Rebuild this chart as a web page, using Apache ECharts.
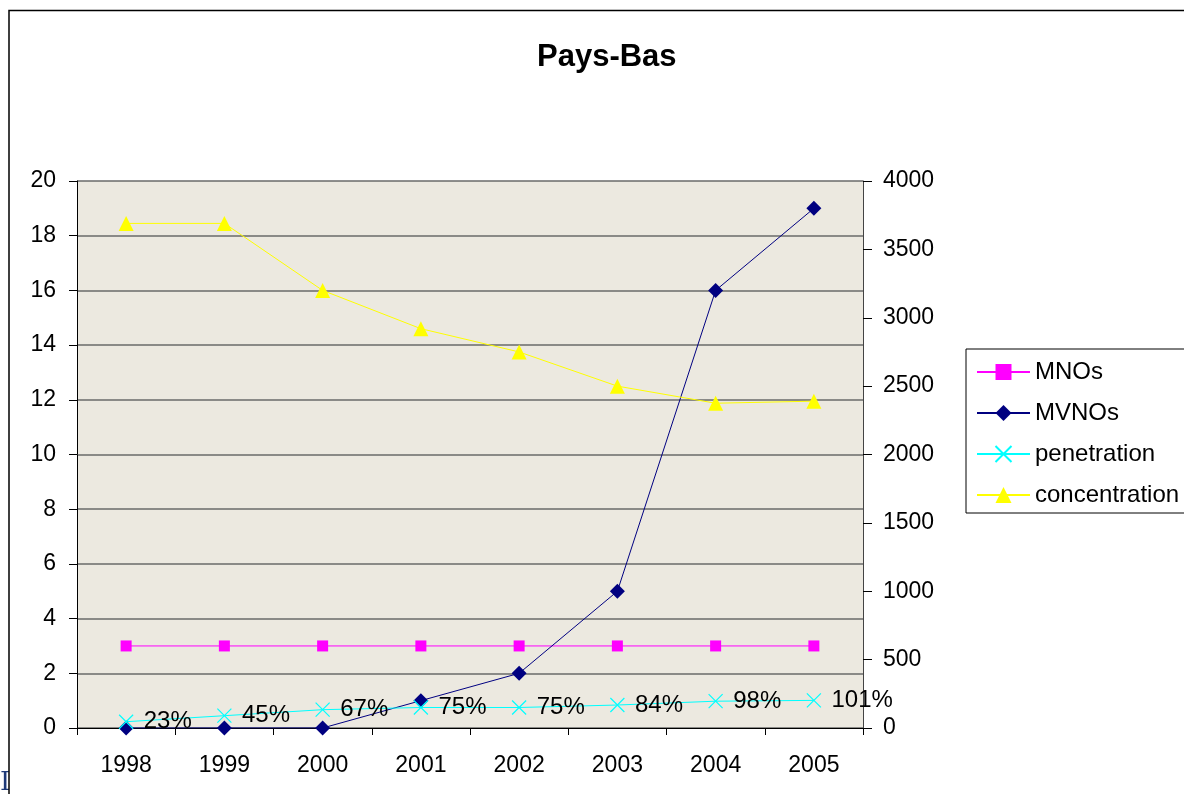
<!DOCTYPE html>
<html>
<head>
<meta charset="utf-8">
<script src="https://cdn.jsdelivr.net/npm/echarts@6/dist/echarts.min.js"></script>
<style>
  html, body { margin: 0; padding: 0; background: #fff; }
  #chart { width: 1184px; height: 794px; }
</style>
</head>
<body>
<div id="chart"></div>
<script>
const years = ['1998', '1999', '2000', '2001', '2002', '2003', '2004', '2005'];
const mnos = [3, 3, 3, 3, 3, 3, 3, 3];
const mvnos = [0, 0, 0, 1, 2, 5, 16, 19];
const penetrationPct = [23, 45, 67, 75, 75, 84, 98, 101];
const concentration = [3690, 3690, 3200, 2920, 2750, 2500, 2375, 2390];

const font = 'Liberation Sans, Arial, sans-serif';
const crossSymbol = 'path://M0,0L10,10M10,0L0,10';

const chart = echarts.init(document.getElementById('chart'), null, { renderer: 'canvas' });

chart.setOption({
  animation: false,
  backgroundColor: '#fff',
  textStyle: { fontFamily: font, color: '#000' },
  title: {
    text: 'Pays-Bas',
    left: 532,
    top: 37,
    textStyle: { fontFamily: font, fontSize: 31, fontWeight: 'bold', color: '#000' },
  },
  graphic: [
    {
      type: 'rect',
      z: 100,
      shape: { x: 9, y: 10.5, width: 1400, height: 1000 },
      style: { fill: 'transparent', stroke: '#000', lineWidth: 1.5 },
    },
    {
      type: 'text',
      left: 0,
      top: 770,
      style: { text: 'I', font: '26px "DejaVu Serif", serif', fill: '#1f3a78' },
    },
  ],
  legend: {
    orient: 'vertical',
    left: 966,
    top: 349,
    padding: [11, 10, 6, 10],
    borderColor: '#000',
    borderWidth: 1,
    backgroundColor: '#fff',
    itemWidth: 53,
    itemHeight: 20,
    itemGap: 17,
    textStyle: { fontFamily: font, fontSize: 24, lineHeight: 23, color: '#000' },
    data: ['MNOs', 'MVNOs', 'penetration', 'concentration'],
  },
  grid: {
    left: 77,
    right: 321,
    top: 181,
    bottom: 66,
    show: true,
    backgroundColor: '#ECE9E0',
    borderWidth: 0,
  },
  xAxis: {
    type: 'category',
    data: years,
    boundaryGap: true,
    axisLine: { lineStyle: { color: '#000', width: 1 } },
    axisTick: { show: true, alignWithLabel: false, length: 7, lineStyle: { color: '#000' } },
    axisLabel: { fontFamily: font, fontSize: 23, color: '#000', margin: 26 },
    splitLine: { show: false },
  },
  yAxis: [
    {
      type: 'value',
      min: 0,
      max: 20,
      interval: 2,
      axisLine: { show: true, lineStyle: { color: '#000', width: 1 } },
      axisTick: { show: true, length: 8, lineStyle: { color: '#000' } },
      axisLabel: { fontFamily: font, fontSize: 23, color: '#000', margin: 21 },
      splitLine: { show: true, lineStyle: { color: '#6a6a6a', width: 1.5 } },
    },
    {
      type: 'value',
      min: 0,
      max: 4000,
      interval: 500,
      position: 'right',
      alignTicks: false,
      axisLine: { show: true, lineStyle: { color: '#444', width: 1 } },
      axisTick: { show: true, length: 9, lineStyle: { color: '#000' } },
      axisLabel: {
        fontFamily: font,
        fontSize: 23,
        color: '#000',
        margin: 20,
        formatter: (v) => String(v),
      },
      splitLine: { show: false },
    },
  ],
  series: [
    {
      name: 'MNOs',
      type: 'line',
      yAxisIndex: 0,
      data: mnos,
      symbol: 'rect',
      symbolSize: 11,
      color: '#FF00FF',
      lineStyle: { width: 1, color: '#FF00FF' },
      itemStyle: { color: '#FF00FF' },
    },
    {
      name: 'MVNOs',
      type: 'line',
      yAxisIndex: 0,
      data: mvnos,
      symbol: 'diamond',
      symbolSize: 15,
      color: '#000080',
      lineStyle: { width: 1, color: '#000080' },
      itemStyle: { color: '#000080' },
    },
    {
      name: 'penetration',
      type: 'line',
      yAxisIndex: 0,
      data: penetrationPct.map((p) => p / 100),
      symbol: crossSymbol,
      symbolSize: 14,
      color: '#00FFFF',
      lineStyle: { width: 1, color: '#00FFFF' },
      itemStyle: { color: 'transparent', borderColor: '#00FFFF', borderWidth: 1.2 },
      label: {
        show: true,
        position: 'right',
        distance: 10,
        fontFamily: font,
        fontSize: 24,
        color: '#000',
        formatter: (p) => penetrationPct[p.dataIndex] + '%',
      },
    },
    {
      name: 'concentration',
      type: 'line',
      yAxisIndex: 1,
      data: concentration,
      symbol: 'triangle',
      symbolSize: 15,
      color: '#FFFF00',
      lineStyle: { width: 1, color: '#FFFF00' },
      itemStyle: { color: '#FFFF00' },
    },
  ],
});
</script>
</body>
</html>
